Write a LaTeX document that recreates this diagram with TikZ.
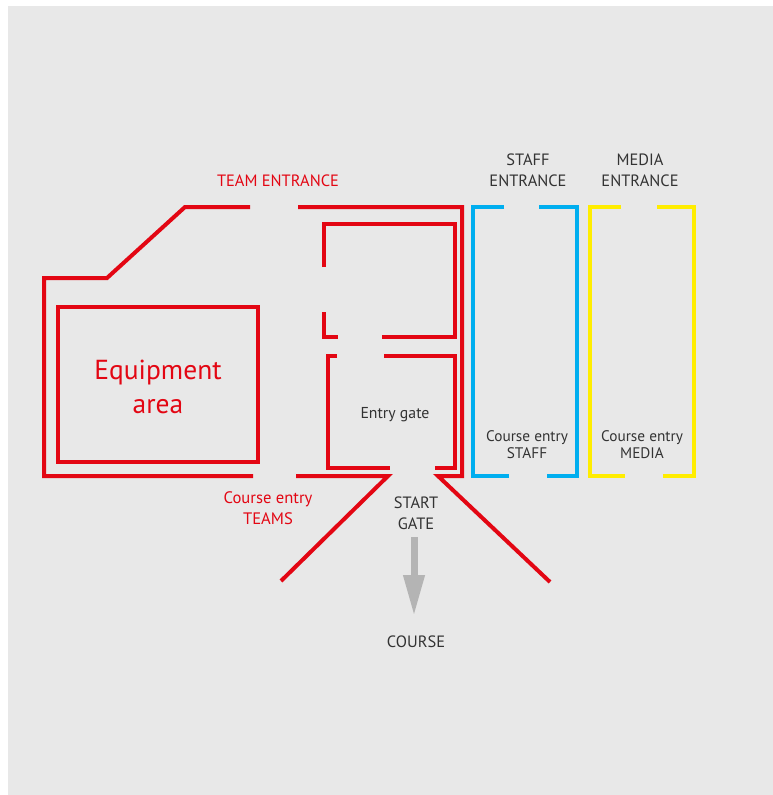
\documentclass[tikz,border=0pt]{standalone}
\usepackage{fontspec}
\setmainfont{PT Sans}
\usetikzlibrary{calc,arrows.meta}
\definecolor{wallred}{HTML}{E30613}
\definecolor{staffblue}{HTML}{00AEEF}
\definecolor{mediayellow}{HTML}{FFED00}
\definecolor{paper}{HTML}{E8E8E8}
\definecolor{ink}{HTML}{333333}
\definecolor{arrowgray}{HTML}{B4B4B4}
\tikzset{
  wall/.style={line width=4pt,line cap=butt,line join=miter},
  lbl/.style={inner sep=0pt,align=center,text=ink,font=\fontsize{16.4}{21}\selectfont},
  small/.style={lbl,font=\fontsize{15.3}{17}\selectfont}
}

\begin{document}
\begin{tikzpicture}[x=1pt,y=-1pt]
      \useasboundingbox (0,0) rectangle (773,795);
      \fill[white](0,0)rectangle(773,795);
      \fill[paper](8,6)rectangle(773,795);
      \begin{scope}[wall,wallred]
        % outer fence of the team zone
        \draw(250,207)--(185,207)--(107,278)--(44,278)--(44,476)--(253,476);
        \draw(298,207)--(462,207)--(462,476)--(438,476)--(550,582);
        \draw(296,476)--(388,476)--(281,581);
        % upper room
        \draw(324,267)--(324,224)--(455,224)--(455,337)--(382,337);
        \draw(324,312)--(324,337)--(338,337);
        % entry gate room
        \draw(337,356)--(328,356)--(328,468)--(390,468);
        \draw(384,356)--(455,356)--(455,468)--(435,468);
        % equipment area
        \draw(58,307)rectangle(258,462);
      \end{scope}
      % staff and media lanes
      \foreach \col/\l/\r/\a/\b/\c/\d in{staffblue/473/577/504/539/509/547,mediayellow/590/694/621/657/625/663}{
        \draw[wall,\col](\a,207)--(\l,207)--(\l,476)--(\c,476);
        \draw[wall,\col](\b,207)--(\r,207)--(\r,476)--(\d,476);
      }
      \draw[arrowgray,line width=7pt,-{Triangle[width=20pt,length=41pt]}](414,537)--(414,616);
      \node[lbl,text=wallred](team)at(278,181){TEAM ENTRANCE};
      \node[lbl](staff)at(528,170.5){STAFF\\ENTRANCE};
      \node[lbl](media)at(640,170.5){MEDIA\\ENTRANCE};
      \node[lbl,text=wallred,font=\fontsize{27.5}{34}\selectfont](equip)at(158,387){Equipment\\area};
      \node[small,font=\fontsize{15.8}{17}\selectfont](gate)at(395,415){Entry gate};
      \node[small](cstaff)at(527,444.5){Course entry\\STAFF};
      \node[small](cmedia)at(642,444.5){Course entry\\MEDIA};
      \node[lbl,text=wallred,font=\fontsize{16.6}{21}\selectfont](cteams)at(268,508.5){Course entry\\TEAMS};
      \node[lbl](start)at(416,513){START\\GATE};
      \node[lbl](course)at(416,642){COURSE};
    \end{tikzpicture}
\end{document}
